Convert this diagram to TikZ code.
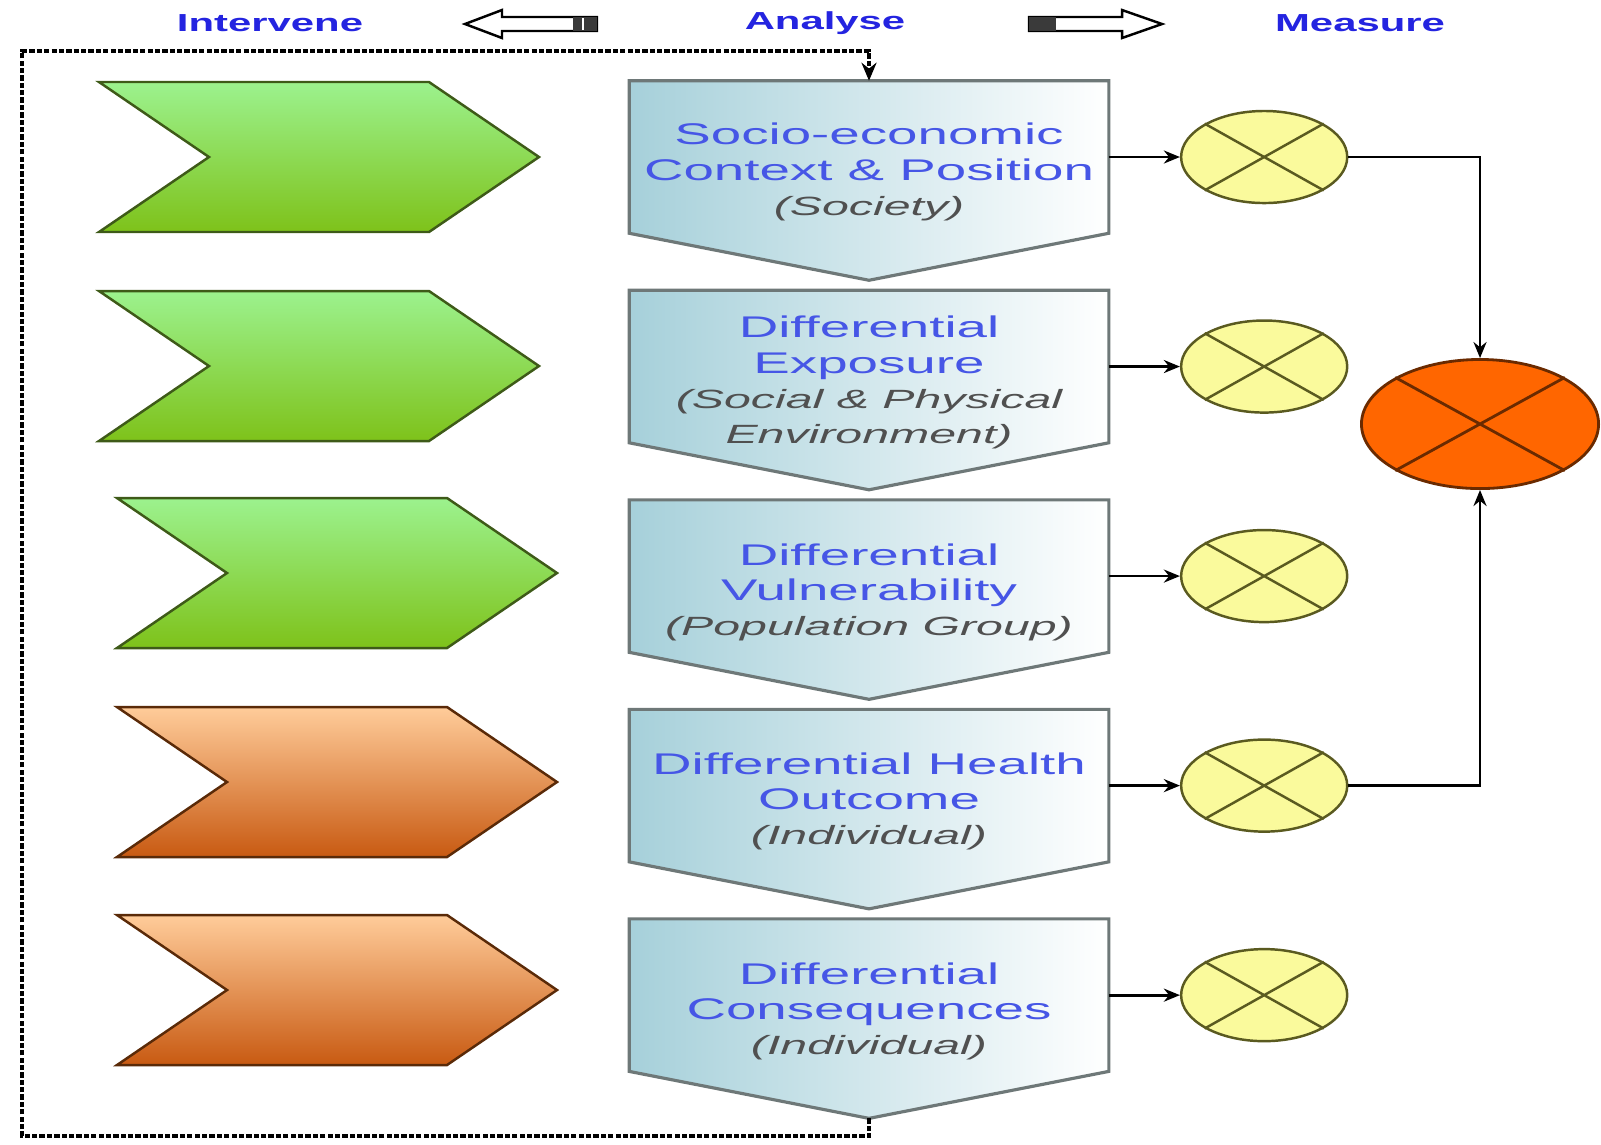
\documentclass[tikz,border=0pt]{standalone}
\usepackage{fontspec}
\usepackage{xcolor}
\usepackage{tikz}
\usetikzlibrary{shapes.geometric, arrows.meta, positioning, calc, backgrounds}
\newfontfamily\widesans[FakeStretch=1.83]{Liberation Sans}
\newfontfamily\headsans[FakeStretch=1.7]{Liberation Sans}
\definecolor{headblue}{HTML}{2424E0}
\definecolor{titleblue}{HTML}{4656E6}
\definecolor{subgray}{HTML}{505050}
\definecolor{pentblue}{HTML}{A6D0DA}
\definecolor{pentedge}{HTML}{6E7878}
\definecolor{greentop}{HTML}{9CF28E}
\definecolor{greenbot}{HTML}{7EC21A}
\definecolor{greenedge}{HTML}{3E5A18}
\definecolor{orangetop}{HTML}{FFCC9A}
\definecolor{orangebot}{HTML}{C85A12}
\definecolor{orangeedge}{HTML}{5A2A08}
\definecolor{measyellow}{HTML}{FAFA9C}
\definecolor{measedge}{HTML}{5A5A20}
\definecolor{totalorange}{HTML}{FF6600}
\definecolor{totaledge}{HTML}{6A2A00}
\definecolor{tailgray}{HTML}{3A3A3A}
\newcommand{\subline}{\widesans\fontsize{7.5}{9.4}\selectfont\itshape\color{subgray}}

\begin{document}
\begin{tikzpicture}[x=0.01cm, y=-0.01cm,
    box/.style={rectangle, minimum width=4.78cm, minimum height=1.51cm, inner sep=0pt},
    pent/.style={draw=pentedge, line width=0.9pt, left color=pentblue, right color=white},
    boxtext/.style={align=center, inner sep=0pt, text=titleblue, font=\widesans\fontsize{8.5}{10}\selectfont},
    chevgreen/.style={draw=greenedge, line width=0.7pt, top color=greentop, bottom color=greenbot},
    chevorange/.style={draw=orangeedge, line width=0.7pt, top color=orangetop, bottom color=orangebot},
    meas/.style={ellipse, draw=measedge, line width=0.7pt, fill=measyellow, minimum width=1.66cm, minimum height=0.92cm, inner sep=0pt},
    total/.style={ellipse, draw=totaledge, line width=0.8pt, fill=totalorange, minimum width=2.37cm, minimum height=1.29cm, inner sep=0pt},
    crossline/.style={draw=measedge, line width=0.7pt},
    totalcross/.style={draw=totaledge, line width=0.8pt},
    head/.style={font=\headsans\bfseries\fontsize{7}{9}\selectfont, text=headblue, inner sep=0pt},
    hollow/.style={draw=black, line width=0.7pt, fill=white},
    arr/.style={-{Stealth[length=1.6mm, width=1.3mm]}, line width=0.8pt, color=black},
    loopline/.style={-{Stealth[length=1.8mm, width=1.5mm]}, line width=1.1pt, dash pattern=on 1.5pt off 0.6pt, color=black},
  ]
  \useasboundingbox (0,0) rectangle (1601,1144);

  % Header: Intervene <= Analyse => Measure
  \node[head] (intervene) at (270,23) {Intervene};
  \node[head] (analyse) at (825,23) {Analyse};
  \node[head] (measure) at (1360,23) {Measure};
  \draw[hollow] (465,24) -- (502,10) -- (502,17) -- (597,17) -- (597,31) -- (502,31) -- (502,38) -- cycle;
  \fill[tailgray] (573,17) rectangle (597,31);
  \draw[white, line width=0.6pt] (583,18) -- (583,30);
  \draw[hollow] (1162,24) -- (1122,10) -- (1122,17) -- (1029,17) -- (1029,31) -- (1122,31) -- (1122,38) -- cycle;
  \fill[tailgray] (1029,17) rectangle (1056,31);

  % Intervene column: chevrons
  \draw[chevgreen] (99,82) -- ++(330,0) -- ++(110,75) -- ++(-110,75) -- ++(-330,0) -- ++(110,-75) -- cycle;
  \draw[chevgreen] (99,291) -- ++(330,0) -- ++(110,75) -- ++(-110,75) -- ++(-330,0) -- ++(110,-75) -- cycle;
  \draw[chevgreen] (117,498) -- ++(330,0) -- ++(110,75) -- ++(-110,75) -- ++(-330,0) -- ++(110,-75) -- cycle;
  \draw[chevorange] (117,707) -- ++(330,0) -- ++(110,75) -- ++(-110,75) -- ++(-330,0) -- ++(110,-75) -- cycle;
  \draw[chevorange] (117,915) -- ++(330,0) -- ++(110,75) -- ++(-110,75) -- ++(-330,0) -- ++(110,-75) -- cycle;

  % Analyse column: stages
  \node[box] (soc) at (869,157) {};
  \node[box, below=0.57cm of soc] (expo) {};
  \node[box, below=0.57cm of expo] (vuln) {};
  \node[box, below=0.57cm of vuln] (health) {};
  \node[box, below=0.57cm of health] (conseq) {};
  \begin{scope}[on background layer]
    \draw[pent] (soc.north west) -- (soc.north east) -- (soc.south east) -- ($(soc.south)+(0,47)$) -- (soc.south west) -- cycle;
    \draw[pent] (expo.north west) -- (expo.north east) -- (expo.south east) -- ($(expo.south)+(0,47)$) -- (expo.south west) -- cycle;
    \draw[pent] (vuln.north west) -- (vuln.north east) -- (vuln.south east) -- ($(vuln.south)+(0,47)$) -- (vuln.south west) -- cycle;
    \draw[pent] (health.north west) -- (health.north east) -- (health.south east) -- ($(health.south)+(0,47)$) -- (health.south west) -- cycle;
    \draw[pent] (conseq.north west) -- (conseq.north east) -- (conseq.south east) -- ($(conseq.south)+(0,47)$) -- (conseq.south west) -- cycle;
  \end{scope}
  \node[boxtext] (soctxt) at ($(soc.center)+(0,15)$) {Socio-economic\\Context \& Position\\{\subline (Society)}};
  \node[boxtext] (expotxt) at ($(expo.center)+(0,16)$) {Differential\\Exposure\\{\subline (Social \& Physical}\\{\subline Environment)}};
  \node[boxtext] (vulntxt) at ($(vuln.center)+(0,16)$) {Differential\\Vulnerability\\{\subline (Population Group)}};
  \node[boxtext] (healthtxt) at ($(health.center)+(0,16)$) {Differential Health\\Outcome\\{\subline (Individual)}};
  \node[boxtext] (conseqtxt) at ($(conseq.center)+(0,16)$) {Differential\\Consequences\\{\subline (Individual)}};

  % Measure column
  \node[meas, right=0.71cm of soc] (msoc) {};
  \node[meas, right=0.71cm of expo] (mexpo) {};
  \node[meas, right=0.71cm of vuln] (mvuln) {};
  \node[meas, right=0.71cm of health] (mhealth) {};
  \node[meas, right=0.71cm of conseq] (mconseq) {};
  \node[total] (mtotal) at (1480,424) {};
  \draw[crossline] (msoc.north west) -- (msoc.south east) (msoc.north east) -- (msoc.south west);
  \draw[crossline] (mexpo.north west) -- (mexpo.south east) (mexpo.north east) -- (mexpo.south west);
  \draw[crossline] (mvuln.north west) -- (mvuln.south east) (mvuln.north east) -- (mvuln.south west);
  \draw[crossline] (mhealth.north west) -- (mhealth.south east) (mhealth.north east) -- (mhealth.south west);
  \draw[crossline] (mconseq.north west) -- (mconseq.south east) (mconseq.north east) -- (mconseq.south west);
  \draw[totalcross] (mtotal.north west) -- (mtotal.south east) (mtotal.north east) -- (mtotal.south west);

  % Connectors
  \draw[arr] (soc.east) -- (msoc.west);
  \draw[arr] (expo.east) -- (mexpo.west);
  \draw[arr] (vuln.east) -- (mvuln.west);
  \draw[arr] (health.east) -- (mhealth.west);
  \draw[arr] (conseq.east) -- (mconseq.west);
  \draw[arr] (msoc.east) -| (mtotal.north);
  \draw[arr] (mhealth.east) -| (mtotal.south);

  % Feedback loop
  \coordinate (conseqtip) at ($(conseq.south)+(0,47)$);
  \coordinate (loopbl) at (22,1136);
  \coordinate (looptl) at (22,51);
  \draw[loopline] (conseqtip) |- (loopbl) -- (looptl) -| (soc.north);
\end{tikzpicture}
\end{document}
